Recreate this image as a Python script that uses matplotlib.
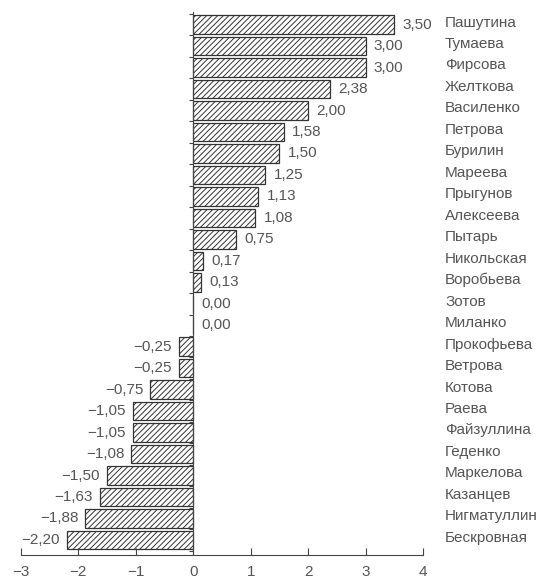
import matplotlib
matplotlib.use("Agg")
import matplotlib.pyplot as plt
import matplotlib.transforms as mtransforms

names = ["Пашутина", "Тумаева", "Фирсова", "Желткова", "Василенко", "Петрова",
         "Бурилин", "Мареева", "Прыгунов", "Алексеева", "Пытарь", "Никольская",
         "Воробьева", "Зотов", "Миланко", "Прокофьева", "Ветрова", "Котова",
         "Раева", "Файзуллина", "Геденко", "Маркелова", "Казанцев",
         "Нигматуллин", "Бескровная"]
values = [3.50, 3.00, 3.00, 2.38, 2.00, 1.58, 1.50, 1.25, 1.13, 1.08, 0.75,
          0.17, 0.13, 0.00, 0.00, -0.25, -0.25, -0.75, -1.05, -1.05, -1.08,
          -1.50, -1.63, -1.88, -2.20]
xticks = [-3, -2, -1, 0, 1, 2, 3, 4]

plt.rcParams['font.family'] = ['Liberation Sans', 'DejaVu Sans']
plt.rcParams['hatch.linewidth'] = 0.7
plt.rcParams['hatch.color'] = '#333333'

TXT = '#555555'
FS = 11
fig = plt.figure(figsize=(5.45, 5.79), dpi=100)
ax = fig.add_axes([21/545, 24/579, 402/545, 543/579])

ypos = list(range(len(names)))
ax.barh(ypos, values, height=0.86, color='white', edgecolor='#333333',
        linewidth=0.9, hatch='//////')

for y, v in zip(ypos, values):
    lab = f"{v:.2f}".replace('.', ',').replace('-', '\u2212')
    if v < 0:
        ax.annotate(lab, (v, y), xytext=(-5, 0), textcoords='offset points',
                    ha='right', va='center', fontsize=FS, color=TXT)
    else:
        ax.annotate(lab, (v, y), xytext=(6, 0), textcoords='offset points',
                    ha='left', va='center', fontsize=FS, color=TXT)

trans = mtransforms.blended_transform_factory(ax.transAxes, ax.transData)
for y, n in zip(ypos, names):
    ax.text(1 + 22/402, y - 0.1, n, transform=trans, ha='left', va='center',
            fontsize=FS, color=TXT)

ax.set_xlim(-3, 4)
ax.set_ylim(24.7, -0.59)
ax.set_xticks(xticks)
ax.set_xticklabels([str(t).replace('-', '\u2212') for t in xticks])
ax.set_yticks([i - 0.5 for i in range(len(names) + 1)])
ax.set_yticklabels([])

for s in ['top', 'right']:
    ax.spines[s].set_visible(False)
ax.spines['left'].set_position(('data', 0))
ax.spines['left'].set_color('#444444')
ax.spines['bottom'].set_color('#444444')
ax.spines['left'].set_linewidth(0.8)
ax.spines['bottom'].set_linewidth(0.8)
ax.tick_params(axis='x', direction='in', length=5, width=0.8, colors='#444444',
               labelsize=11, labelcolor=TXT, pad=7)
ax.tick_params(axis='y', direction='out', length=3, width=0.8, colors='#444444')

fig.savefig('out.png', dpi=100)
